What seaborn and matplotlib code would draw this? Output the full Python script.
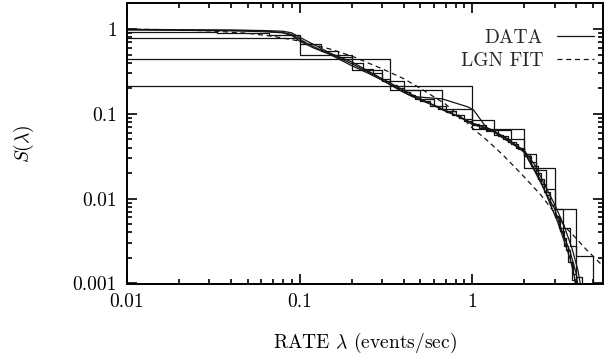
import numpy as np
import pandas as pd
import seaborn as sns
import matplotlib
matplotlib.use("Agg")
import matplotlib.pyplot as plt
from matplotlib.lines import Line2D
from matplotlib.ticker import LogLocator, NullFormatter

# empirical survival curves drawn as steps (counting windows 1 s, 3 s, 10 s, 30 s)
t1_rate = [0.01, 1.0, 2.0, 3.0, 4.0, 5.0]
t1_surv = [0.21, 0.066, 0.023, 0.0075, 0.0021, 0.0005]

t3_rate = [0.01, 0.333, 0.667, 1.0, 1.333, 1.667, 2.0, 2.333, 2.667, 3.0,
           3.333, 3.667, 4.0, 4.333]
t3_surv = [0.44, 0.19, 0.115, 0.085, 0.064, 0.05, 0.034, 0.022, 0.013, 0.0075,
           0.0045, 0.0028, 0.0012, 0.0005]

t10_rate = [0.01, 0.1, 0.2, 0.3, 0.4, 0.5, 0.6, 0.7, 0.8, 0.9, 1.0, 1.2, 1.4,
            1.6, 1.8, 2.0, 2.2, 2.4, 2.6, 2.8, 3.0, 3.2, 3.4, 3.6, 3.8, 4.0]
t10_surv = [0.78, 0.5, 0.33, 0.245, 0.19, 0.15, 0.125, 0.108, 0.097, 0.086,
            0.074, 0.064, 0.055, 0.047, 0.04, 0.032, 0.024, 0.017, 0.012,
            0.0085, 0.006, 0.0042, 0.0028, 0.0018, 0.0011, 0.0005]

t30_rate = [0.01, 0.0333, 0.0667, 0.1, 0.1333, 0.1667, 0.2, 0.2333, 0.2667,
            0.3, 0.3333, 0.3667, 0.4, 0.4333, 0.4667, 0.5, 0.5667, 0.6333,
            0.7, 0.7667, 0.8333, 0.9, 1.0, 1.1, 1.2, 1.333, 1.5, 1.667, 1.833,
            2.0, 2.167, 2.333, 2.5, 2.667, 2.833, 3.0, 3.167, 3.333, 3.5,
            3.667, 3.833, 4.0]
t30_surv = [0.93, 0.9, 0.86, 0.66, 0.55, 0.47, 0.4, 0.34, 0.3, 0.26, 0.22,
            0.2, 0.18, 0.165, 0.15, 0.14, 0.125, 0.115, 0.105, 0.098, 0.09,
            0.083, 0.075, 0.068, 0.062, 0.057, 0.05, 0.044, 0.039, 0.034,
            0.027, 0.02, 0.015, 0.011, 0.0085, 0.0062, 0.0045, 0.0034, 0.0025,
            0.0018, 0.0013, 0.0009]

# long records, fine enough to look smooth
d1_rate = [0.01, 0.015, 0.02, 0.03, 0.04, 0.05, 0.06, 0.07, 0.08, 0.09, 0.1,
           0.11, 0.12, 0.14, 0.16, 0.18, 0.2, 0.25, 0.3, 0.35, 0.4, 0.45, 0.5,
           0.6, 0.7, 0.8, 0.9, 1.0, 1.3, 1.6, 2.0, 2.3, 2.6, 3.0, 3.3, 3.7,
           4.0, 4.1]
d1_surv = [0.99, 0.985, 0.98, 0.975, 0.97, 0.96, 0.95, 0.93, 0.91, 0.86,
           0.76, 0.68, 0.62, 0.54, 0.48, 0.43, 0.39, 0.31, 0.25, 0.21, 0.18,
           0.16, 0.145, 0.125, 0.107, 0.096, 0.085, 0.075, 0.064, 0.051,
           0.035, 0.021, 0.013, 0.0075, 0.0042, 0.0023, 0.0013, 0.0009]

d2_rate = [0.01, 0.02, 0.04, 0.06, 0.08, 0.09, 0.1, 0.12, 0.15, 0.2, 0.25,
           0.3, 0.4, 0.45, 0.67, 0.95, 1.02, 1.2, 1.5, 2.0, 2.2, 2.5, 2.8,
           3.1, 3.4, 3.7, 3.9, 4.0]
d2_surv = [0.97, 0.965, 0.95, 0.93, 0.9, 0.84, 0.72, 0.6, 0.5, 0.37, 0.3,
           0.25, 0.18, 0.16, 0.15, 0.12, 0.11, 0.07, 0.052, 0.036, 0.026,
           0.016, 0.009, 0.0055, 0.0032, 0.0019, 0.0012, 0.0008]

d3_rate = [0.02, 0.04, 0.06, 0.08, 0.09, 0.1, 0.12, 0.15, 0.2, 0.3, 0.4, 0.5,
           0.7, 1.0, 1.3, 1.7, 2.0, 2.3, 2.7, 3.0, 3.4, 3.8, 4.1, 4.3]
d3_surv = [0.97, 0.965, 0.96, 0.94, 0.9, 0.8, 0.66, 0.52, 0.41, 0.26, 0.19,
           0.15, 0.11, 0.078, 0.065, 0.046, 0.037, 0.025, 0.013, 0.0085,
           0.0048, 0.0025, 0.0014, 0.0008]

# lognormal fit
fit_rate = [0.01, 0.02, 0.03, 0.05, 0.07, 0.1, 0.15, 0.2, 0.3, 0.4, 0.5, 0.7,
            0.9, 1.0, 1.2, 1.5, 2.0, 2.5, 3.0, 3.5, 4.0, 4.5, 5.0, 5.72]
fit_surv = [0.995, 0.975, 0.95, 0.89, 0.82, 0.72, 0.58, 0.48, 0.34, 0.26,
            0.2, 0.13, 0.085, 0.068, 0.05, 0.033, 0.018, 0.011, 0.0068,
            0.0045, 0.0034, 0.0026, 0.0021, 0.0016]

x_ticks = [0.01, 0.1, 1]
x_tick_labels = ["0.01", "0.1", "1"]
y_ticks = [0.001, 0.01, 0.1, 1]
y_tick_labels = ["0.001", "0.01", "0.1", "1"]

steps = pd.concat([
    pd.DataFrame({"rate": r, "S": s, "curve": n})
    for n, r, s in [("t1", t1_rate, t1_surv), ("t3", t3_rate, t3_surv),
                    ("t10", t10_rate, t10_surv), ("t30", t30_rate, t30_surv)]
])
dense = pd.concat([
    pd.DataFrame({"rate": r, "S": s, "curve": n})
    for n, r, s in [("d1", d1_rate, d1_surv), ("d2", d2_rate, d2_surv),
                    ("d3", d3_rate, d3_surv)]
])

sns.set_theme(style="ticks")
plt.rcParams["font.family"] = ["cmr10", "DejaVu Serif"]
plt.rcParams["mathtext.fontset"] = "cm"
plt.rcParams["axes.formatter.use_mathtext"] = True

fig = plt.figure(figsize=(6.04, 3.6), dpi=100)
ax = fig.add_axes([0.21, 0.2125, 0.7885, 0.778])
ax.set(xscale="log", yscale="log")

ink = "#141414"
sns.lineplot(data=steps, x="rate", y="S", units="curve", estimator=None,
             color=ink, lw=0.9, drawstyle="steps-post", legend=False, ax=ax)
sns.lineplot(data=dense, x="rate", y="S", units="curve", estimator=None,
             color=ink, lw=0.9, legend=False, ax=ax)
sns.lineplot(x=fit_rate, y=fit_surv, color=ink, lw=0.9,
             linestyle=(0, (4, 3)), ax=ax)

ax.set_xlim(0.01, 5.72)
ax.set_ylim(0.001, 2.0)
ax.set_xticks(x_ticks, labels=x_tick_labels)
ax.set_yticks(y_ticks, labels=y_tick_labels)
ax.xaxis.set_minor_locator(LogLocator(base=10, subs=np.arange(2, 10)))
ax.yaxis.set_minor_locator(LogLocator(base=10, subs=np.arange(2, 10)))
ax.xaxis.set_minor_formatter(NullFormatter())
ax.yaxis.set_minor_formatter(NullFormatter())
ax.tick_params(which="both", direction="in", top=True, right=True,
               labelsize=14, width=1.2, color="black", labelcolor="black")
ax.tick_params(which="major", length=7.5)
ax.tick_params(which="minor", length=3.8)
ax.tick_params(axis="x", pad=7)
ax.tick_params(axis="y", pad=7)
for sp in ax.spines.values():
    sp.set_linewidth(1.4)
    sp.set_color("black")

ax.set_xlabel("RATE $\\lambda$ (events/sec)", fontsize=14, color="black")
ax.set_ylabel("$S(\\lambda)$", fontsize=14, color="black")
ax.xaxis.set_label_coords(0.5, -0.17)
ax.yaxis.set_label_coords(-0.19, 0.5)

handles = [Line2D([], [], color=ink, lw=0.9),
           Line2D([], [], color=ink, lw=0.9, linestyle=(0, (4, 3)))]
ax.legend(handles=handles, labels=["DATA", "LGN FIT"], loc="upper right",
          bbox_to_anchor=(0.98, 0.91), frameon=False, markerfirst=False,
          fontsize=14, handlelength=1.9, handletextpad=0.7, labelspacing=0.3,
          borderpad=0, borderaxespad=0)

fig.savefig("out.png", dpi=100)
